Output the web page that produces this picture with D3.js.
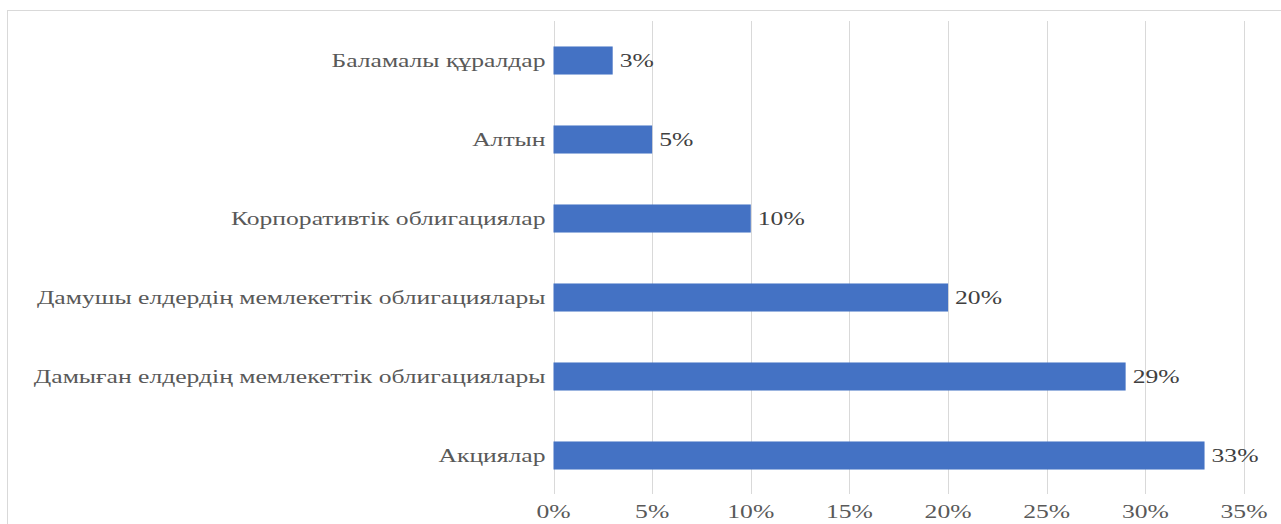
<!DOCTYPE html>
<html>
<head>
<meta charset="utf-8">
<script src="https://cdn.jsdelivr.net/npm/d3@7"></script>
<style>
  body { margin: 0; background: #fff; }
  svg text { font-family: "Liberation Serif", "DejaVu Serif", serif; font-size: 18.5px; }
</style>
</head>
<body>
<div id="corpo"></div>
<script>
// data, top to bottom as drawn
var categories = ["Баламалы құралдар", "Алтын", "Корпоративтік облигациялар",
  "Дамушы елдердің мемлекеттік облигациялары",
  "Дамыған елдердің мемлекеттік облигациялары", "Акциялар"];
var values = [3, 5, 10, 20, 29, 33];
var ticks = [0, 5, 10, 15, 20, 25, 30, 35];

var width = 1281, height = 524;
var plotLeft = 553.5, plotRight = 1244, plotTop = 21, plotBottom = 495;
var stretch = 1.385; // the text in the picture is drawn wide

var svg = d3.select("#corpo").append("svg")
    .attr("width", width)
    .attr("height", height);

// chart border
svg.append("rect")
    .attr("x", 7.5).attr("y", 10.5)
    .attr("width", 1290).attr("height", 540)
    .style("fill", "none")
    .style("stroke", "#d9d9d9");

var x = d3.scaleLinear().domain([0, 35]).range([plotLeft, plotRight]);
var y = d3.scaleBand().domain(categories).range([plotTop, plotBottom]).paddingInner(0.645).paddingOuter(0.3225);

function place(px, py) {
    return "translate(" + px + "," + py + ") scale(" + stretch + ",1)";
}

// gridlines
svg.selectAll(".grid")
    .data(ticks)
    .enter().append("line")
    .attr("x1", function(d) { return Math.round(x(d)) + 0.5; })
    .attr("x2", function(d) { return Math.round(x(d)) + 0.5; })
    .attr("y1", plotTop)
    .attr("y2", 494)
    .style("stroke", "#d9d9d9")
    .style("stroke-width", 1);

// tick labels
svg.selectAll(".tick")
    .data(ticks)
    .enter().append("text")
    .attr("transform", function(d) { return place(x(d), 518); })
    .attr("text-anchor", "middle")
    .style("fill", "#595959")
    .text(function(d) { return d + "%"; });

var g = svg.selectAll(".bar")
    .data(categories)
    .enter().append("g")
    .attr("class", "bar");

g.append("rect")
    .attr("x", x(0))
    .attr("y", function(d) { return y(d); })
    .attr("width", function(d, i) { return x(values[i]) - x(0); })
    .attr("height", y.bandwidth())
    .style("fill", "#4472c4");

// category labels
g.append("text")
    .attr("transform", function(d) { return place(plotLeft - 8, y(d) + y.bandwidth() / 2 + 6.5); })
    .attr("text-anchor", "end")
    .style("fill", "#595959")
    .text(function(d) { return d; });

// value labels
g.append("text")
    .attr("transform", function(d, i) { return place(x(values[i]) + 7, y(d) + y.bandwidth() / 2 + 6.5); })
    .style("fill", "#404040")
    .text(function(d, i) { return values[i] + "%"; });
</script>
</body>
</html>
